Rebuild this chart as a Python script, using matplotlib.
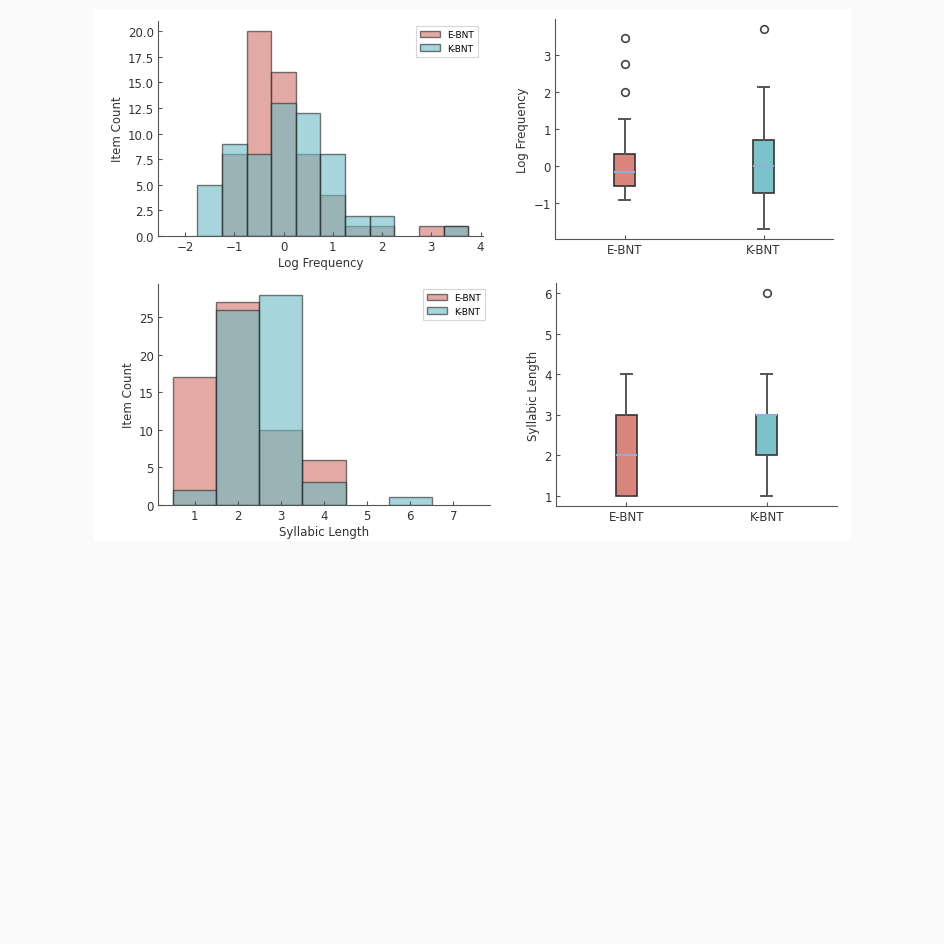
import matplotlib
matplotlib.use("Agg")
import matplotlib.pyplot as plt
from matplotlib.patches import Rectangle, Patch
import numpy as np

# log frequency histogram (bin centres, width 0.5)
freq_centers = [-2.0, -1.5, -1.0, -0.5, 0.0, 0.5, 1.0, 1.5, 2.0, 2.5, 3.0, 3.5]
freq_e_counts = [0, 0, 8, 20, 16, 8, 4, 1, 1, 0, 1, 1]
freq_k_counts = [0, 5, 9, 8, 13, 12, 8, 2, 2, 0, 0, 1]

# syllabic length histogram
syl_centers = [1, 2, 3, 4, 5, 6, 7]
syl_e_counts = [17, 27, 10, 6, 0, 0, 0]
syl_k_counts = [2, 26, 28, 3, 0, 1, 0]

groups = ["E-BNT", "K-BNT"]

# box stats: q1, median, q3, whisker low, whisker high, outliers
freq_box_e = (-0.55, -0.17, 0.33, -0.93, 1.28, [2.02, 2.78, 3.48])
freq_box_k = (-0.73, 0.0, 0.71, -1.72, 2.14, [3.72])
syl_box_e = (1.0, 2.0, 3.0, 1.0, 4.0, [])
syl_box_k = (2.0, 3.0, 3.0, 1.0, 4.0, [6.0])

col_e = "#d0706a"
col_k = "#6bbac3"
box_e = "#d9857b"
box_k = "#7cc2cb"

plt.rcParams['font.family'] = ['DejaVu Sans']
plt.rcParams['font.size'] = 8.5
plt.rcParams['axes.edgecolor'] = '#555555'
plt.rcParams['xtick.color'] = '#555555'
plt.rcParams['ytick.color'] = '#555555'
plt.rcParams['xtick.labelcolor'] = '#333333'
plt.rcParams['ytick.labelcolor'] = '#333333'
plt.rcParams['axes.labelcolor'] = '#333333'
plt.rcParams['xtick.direction'] = 'in'
plt.rcParams['ytick.direction'] = 'in'

fig = plt.figure(figsize=(9.45, 9.45), dpi=100)
fig.patch.set_facecolor('#fafafa')
W = H = 945.0
fig.patches.append(Rectangle((94 / W, 1 - 542 / H), (851 - 94) / W, (542 - 10) / H,
                             transform=fig.transFigure, facecolor='white',
                             edgecolor='none', zorder=-5))


def px_axes(x0, y0, x1, y1):
    return fig.add_axes([x0 / W, 1 - y1 / H, (x1 - x0) / W, (y1 - y0) / H])


def style(ax):
    ax.spines['top'].set_visible(False)
    ax.spines['right'].set_visible(False)
    ax.tick_params(length=3, width=0.8, pad=3)
    ax.patch.set_alpha(0)


def draw_hist(ax, centers, e_counts, k_counts, width, xlabel):
    centers = np.asarray(centers, dtype=float)
    edges = np.append(centers - width / 2, centers[-1] + width / 2)
    handles = []
    for counts, c, name in [(e_counts, col_e, groups[0]), (k_counts, col_k, groups[1])]:
        _, _, bars = ax.hist(centers, bins=edges, weights=counts, color=c, alpha=0.6,
                             edgecolor='#222222', linewidth=1.0)
        # empty bins would leave a flat edge line on the axis
        for b in bars:
            if b.get_height() == 0:
                b.set_visible(False)
        handles.append(Patch(facecolor=c, edgecolor='#222222', alpha=0.6,
                             linewidth=1.0, label=name))
    ax.set_xlabel(xlabel, labelpad=2)
    ax.set_ylabel("Item Count", labelpad=3)
    leg = ax.legend(handles=handles, loc='upper right', fontsize=6.5, fancybox=False,
                    handlelength=2.2, borderpad=0.5)
    leg.get_frame().set_edgecolor('#cccccc')
    leg.get_frame().set_linewidth(0.8)
    style(ax)


def draw_box(ax, stats_list, colors, ylabel):
    stats = []
    for s, name in zip(stats_list, groups):
        q1, med, q3, lo, hi, fl = s
        stats.append(dict(q1=q1, med=med, q3=q3, whislo=lo, whishi=hi,
                          fliers=fl, label=name))
    bp = ax.bxp(stats, widths=0.15, patch_artist=True,
                boxprops=dict(edgecolor='#333333', linewidth=1.2),
                whiskerprops=dict(color='#555555', linewidth=1.4),
                capprops=dict(color='#555555', linewidth=1.4),
                medianprops=dict(color='#90b0da', linewidth=1.5),
                flierprops=dict(marker='o', markerfacecolor='none',
                                markeredgecolor='#444444', markersize=5.5,
                                markeredgewidth=1.2))
    for patch, c in zip(bp['boxes'], colors):
        patch.set_facecolor(c)
    ax.set_ylabel(ylabel, labelpad=3)
    style(ax)


ax1 = px_axes(158, 22, 483, 237)
draw_hist(ax1, freq_centers, freq_e_counts, freq_k_counts, 0.5, "Log Frequency")

ax2 = px_axes(555, 20, 833, 240)
draw_box(ax2, [freq_box_e, freq_box_k], [box_e, box_k], "Log Frequency")
ax2.set_yticks([-1, 0, 1, 2, 3])

ax3 = px_axes(158, 285, 490, 506)
draw_hist(ax3, syl_centers, syl_e_counts, syl_k_counts, 1.0, "Syllabic Length")
ax3.set_xticks(syl_centers)

ax4 = px_axes(556, 284, 837, 507)
draw_box(ax4, [syl_box_e, syl_box_k], [box_e, box_k], "Syllabic Length")

fig.savefig("out.png", dpi=100, facecolor=fig.get_facecolor())
